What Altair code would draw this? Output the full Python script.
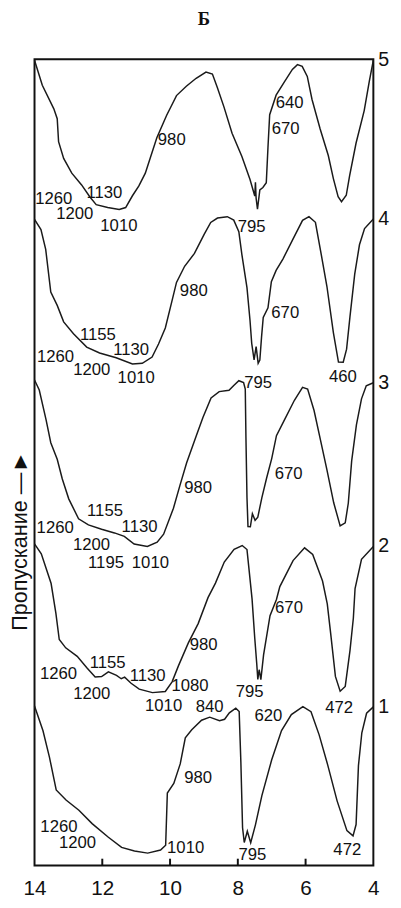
import altair as alt
import pandas as pd

# IR transmission spectra (wavenumber in 100 cm^-1 units), stacked
wn5 = [14.00, 13.77, 13.43, 13.33, 13.29, 13.14, 12.90, 12.61, 12.37, 12.18, 11.84, 11.50, 11.31, 11.11,
       10.92, 10.73, 10.58, 10.39, 10.10, 9.81, 9.52, 9.23, 8.94, 8.75, 8.61, 8.41, 8.17, 7.88, 7.64, 7.50,
       7.48, 7.46, 7.42, 7.35, 7.26, 7.16, 7.11, 7.06, 6.87, 6.63, 6.39, 6.24, 6.10, 5.95, 5.81, 5.57, 5.33,
       5.18, 5.04, 4.94, 4.80, 4.70, 4.51, 4.27, 4.12, 4.00]
t5 = [820, 794.5, 770.5, 760.4, 737, 720, 705, 693, 681, 673, 670, 668, 670, 682, 692, 705, 721, 741, 764,
      784, 793.5, 801.6, 808, 806, 792.7, 772.5, 745.6, 722, 698.5, 681.7, 695.6, 679.6, 668.3, 688, 690.4,
      695.3, 731.3, 764.5, 784.4, 797.6, 810.6, 815.5, 813.7, 803.5, 780, 750, 723, 699.5, 681, 676, 682.5,
      702.5, 735.7, 768.7, 798.5, 820]

wn4 = [14.00, 13.81, 13.67, 13.52, 13.33, 13.14, 12.85, 12.46, 12.08, 11.59, 11.11, 10.82, 10.53, 10.34,
       10.14, 9.95, 9.81, 9.57, 9.28, 8.99, 8.80, 8.60, 8.31, 8.12, 7.97, 7.88, 7.73, 7.64, 7.59, 7.52, 7.46,
       7.40, 7.35, 7.30, 7.25, 7.11, 7.01, 6.87, 6.67, 6.38, 6.09, 5.90, 5.71, 5.56, 5.37, 5.18, 5.03, 4.89,
       4.79, 4.69, 4.55, 4.41, 4.26, 4.00]
t4 = [658, 647.5, 627.4, 584, 570.4, 553.6, 541.6, 527.9, 521.9, 517.1, 510.7, 511.4, 517.8, 531, 547.4,
      573.9, 593.8, 610.2, 623.3, 643, 654.8, 659.3, 660.7, 657.2, 645.4, 622, 588.5, 555, 531.7, 514.9,
      528.3, 511.5, 514.8, 538.1, 558.1, 568, 594.5, 606, 617.5, 637.3, 657, 660.8, 655, 626.5, 589.6, 542.7,
      512.6, 512.5, 525.8, 559, 602.2, 632.1, 648.6, 658.4]

wn3 = [14.00, 13.86, 13.66, 13.52, 13.33, 13.18, 12.99, 12.70, 12.41, 12.02, 11.64, 11.35, 11.06, 10.67,
       10.38, 10.19, 9.90, 9.71, 9.51, 9.22, 9.03, 8.79, 8.55, 8.26, 8.12, 7.97, 7.83, 7.78, 7.76, 7.73, 7.70,
       7.63, 7.57, 7.49, 7.41, 7.29, 7.15, 7.00, 6.86, 6.62, 6.33, 6.09, 5.94, 5.75, 5.56, 5.37, 5.17, 4.98,
       4.83, 4.74, 4.64, 4.50, 4.35, 4.21, 4.00]
t3 = [494.4, 484.2, 454, 430.5, 413.7, 393.6, 373.4, 353.1, 346.9, 342.5, 338.7, 335.2, 327.4, 325, 329.3,
      337.4, 363.8, 386.9, 410.2, 438.2, 456.3, 476.1, 482.6, 484, 488.8, 493.7, 491.9, 485.1, 435.1, 375.1,
      345.1, 345, 358.3, 351.6, 354.8, 374.7, 394.6, 414.4, 437.7, 454.1, 473.8, 487, 485.2, 463.3, 433.1,
      402.9, 369.4, 345.9, 349, 368.9, 412.1, 448.7, 475.2, 488.5, 491.6]

wn2 = [14.00, 13.80, 13.51, 13.37, 13.27, 13.08, 12.74, 12.45, 12.21, 12.02, 11.82, 11.58, 11.44, 11.34,
       11.15, 10.91, 10.52, 10.14, 9.94, 9.75, 9.46, 9.17, 8.88, 8.66, 8.40, 8.11, 7.87, 7.73, 7.68, 7.58,
       7.50, 7.44, 7.41, 7.37, 7.32, 7.24, 7.05, 6.86, 6.76, 6.37, 6.03, 5.79, 5.50, 5.36, 5.26, 5.12, 4.98,
       4.83, 4.69, 4.59, 4.54, 4.35, 4.00]
t2 = [327.6, 317.4, 287.2, 257, 230.2, 221.7, 213.1, 201.2, 191.9, 192.5, 197.3, 193.6, 190.2, 191.8, 185.6,
      179.7, 176.1, 177.3, 187.1, 203.6, 226.7, 246.4, 272.8, 287.6, 309.1, 322, 325.9, 321.8, 305.1, 271.6,
      231.5, 204.8, 189.5, 199.4, 189.4, 214.5, 254.5, 271, 284.1, 310.5, 323.5, 316.7, 289.7, 266.5, 236.4,
      192.6, 177.5, 182.4, 218.9, 252.1, 282.1, 311.9, 325]

wn1 = [14.00, 13.75, 13.56, 13.36, 13.07, 12.69, 12.30, 11.82, 11.43, 11.05, 10.66, 10.28, 10.13, 10.08,
       9.89, 9.70, 9.55, 9.36, 9.07, 8.83, 8.54, 8.39, 8.25, 8.06, 7.96, 7.91, 7.86, 7.81, 7.72, 7.62, 7.48,
       7.29, 7.00, 6.71, 6.42, 6.08, 5.84, 5.60, 5.35, 5.07, 4.78, 4.60, 4.51, 4.44, 4.34, 4.20, 4.00]
t1 = [162.5, 137.3, 110.5, 77, 66.7, 56.3, 42.7, 28.8, 18.5, 14.8, 12.7, 15.8, 20.7, 73.9, 83.7, 103.5,
      130.1, 138.2, 148, 151.1, 147.5, 149, 155.5, 160.3, 156.9, 105.2, 38.5, 23.5, 35, 23.3, 41.5, 71.3,
      107.7, 137.5, 153.8, 161.9, 156.7, 133.1, 102.8, 65.9, 35.6, 30.2, 41.8, 101.8, 135.2, 155.1, 161.6]

# peak annotations
lab5_text = ["1260", "1130", "1200", "1010", "980", "640", "670"]
lab5_x = [13.43, 11.94, 12.81, 11.51, 9.95, 6.47, 6.59]
lab5_y = [679, 685, 663, 651.4, 739, 776.7, 749.8]
lab4_text = ["795", "980", "670", "1155", "1130", "1260", "1200", "1010", "460"]
lab4_x = [7.59, 9.30, 6.60, 12.13, 11.15, 13.38, 12.31, 11.00, 4.90]
lab4_y = [649.7, 585.3, 562.8, 539.9, 525, 518.1, 504.1, 495.9, 497.2]
lab3_text = ["795", "670", "980", "1155", "1130", "1260", "1200", "1195", "1010"]
lab3_x = [7.40, 6.50, 9.17, 11.92, 10.90, 13.39, 12.32, 11.89, 10.58]
lab3_y = [491.5, 398.6, 384.1, 360.7, 344.8, 344.1, 326.1, 307.7, 307.5]
lab2_text = ["670", "980", "1155", "1260", "1130", "1080", "1200", "795", "1010", "840", "620", "472"]
lab2_x = [6.49, 9.01, 11.84, 13.29, 10.66, 9.41, 12.31, 7.65, 10.19, 8.83, 7.10, 5.01]
lab2_y = [262.6, 224, 206.6, 194.9, 192.5, 182.3, 175, 176.7, 162.1, 161.8, 152.2, 160.2]
lab1_text = ["980", "1260", "1200", "1010", "795", "472"]
lab1_x = [9.17, 13.28, 12.73, 9.54, 7.57, 4.77]
lab1_y = [89, 38.9, 22.4, 17.4, 10.6, 16]

curve_ids = ["5", "4", "3", "2", "1"]
curve_end_y = [820, 658.4, 491.6, 325, 161.6]

x_ticks = [14, 12, 10, 8, 6, 4]
inner_ticks = [12, 10, 8, 6]

rows = []
for cid, wn, t in zip(curve_ids, [wn5, wn4, wn3, wn2, wn1], [t5, t4, t3, t2, t1]):
    assert len(wn) == len(t)
    for i, (a, b) in enumerate(zip(wn, t)):
        rows.append({"curve": cid, "wn": a, "T": b, "i": i})
curves_df = pd.DataFrame(rows)

lab_rows = []
for tx, xx, yy in [(lab5_text, lab5_x, lab5_y), (lab4_text, lab4_x, lab4_y), (lab3_text, lab3_x, lab3_y),
                   (lab2_text, lab2_x, lab2_y), (lab1_text, lab1_x, lab1_y)]:
    assert len(tx) == len(xx) == len(yy)
    for a, b, c in zip(tx, xx, yy):
        lab_rows.append({"label": a, "wn": b, "T": c})
lab_df = pd.DataFrame(lab_rows)

num_df = pd.DataFrame({"label": curve_ids, "wn": [4.0] * 5, "T": curve_end_y})
tick_df = pd.DataFrame({"wn": inner_ticks, "T": [0] * 4, "T2": [7] * 4})

W, H = 345, 821
xs = alt.Scale(domain=[4, 14], reverse=True, nice=False, zero=False)
ys = alt.Scale(domain=[0, H], nice=False, zero=False)

xaxis = alt.Axis(values=x_ticks, ticks=False, domain=False, grid=False, title=None,
                 labelFont="Liberation Sans", labelFontSize=21, labelColor="#111",
                 labelPadding=12, labelFlush=False, format="d")
yaxis = alt.Axis(labels=False, ticks=False, domain=False, grid=False,
                 title="Пропускание —►", titleFont="Liberation Sans", titleFontSize=22,
                 titleFontWeight="normal", titleColor="#111", titleAngle=270,
                 titleAlign="center", titleBaseline="middle", titleX=-15, titleY=490)

X = alt.X("wn:Q", scale=xs, axis=xaxis)
Y = alt.Y("T:Q", scale=ys, axis=yaxis)

lines = alt.Chart(curves_df).mark_line(color="#1a1a1a", strokeWidth=1.5).encode(
    x=X, y=Y, detail="curve:N", order="i:Q",
)

labels = alt.Chart(lab_df).mark_text(font="Liberation Sans", fontSize=17, color="#111",
                                     align="center", baseline="middle").encode(
    x=X, y=Y, text="label:N",
)

nums = alt.Chart(num_df).mark_text(font="Liberation Sans", fontSize=20, color="#111",
                                   align="left", baseline="middle", dx=5).encode(
    x=X, y=Y, text="label:N",
)

ticks = alt.Chart(tick_df).mark_rule(color="#111", strokeWidth=2).encode(
    x=X, y=Y, y2="T2:Q",
)

chart = alt.layer(lines, ticks, labels, nums).properties(
    width=W, height=H,
    autosize=alt.AutoSizeParams(type="none"),
    padding={"left": 27, "top": 44, "right": 20, "bottom": 34},
    title=alt.TitleParams("Б", font="Liberation Serif", fontSize=19, fontWeight="bold",
                          anchor="middle", offset=22, color="#111"),
).configure(background="white").configure_view(stroke="#111", strokeWidth=2)

chart.save("out.html", embed_options={"renderer": "svg", "actions": False})
